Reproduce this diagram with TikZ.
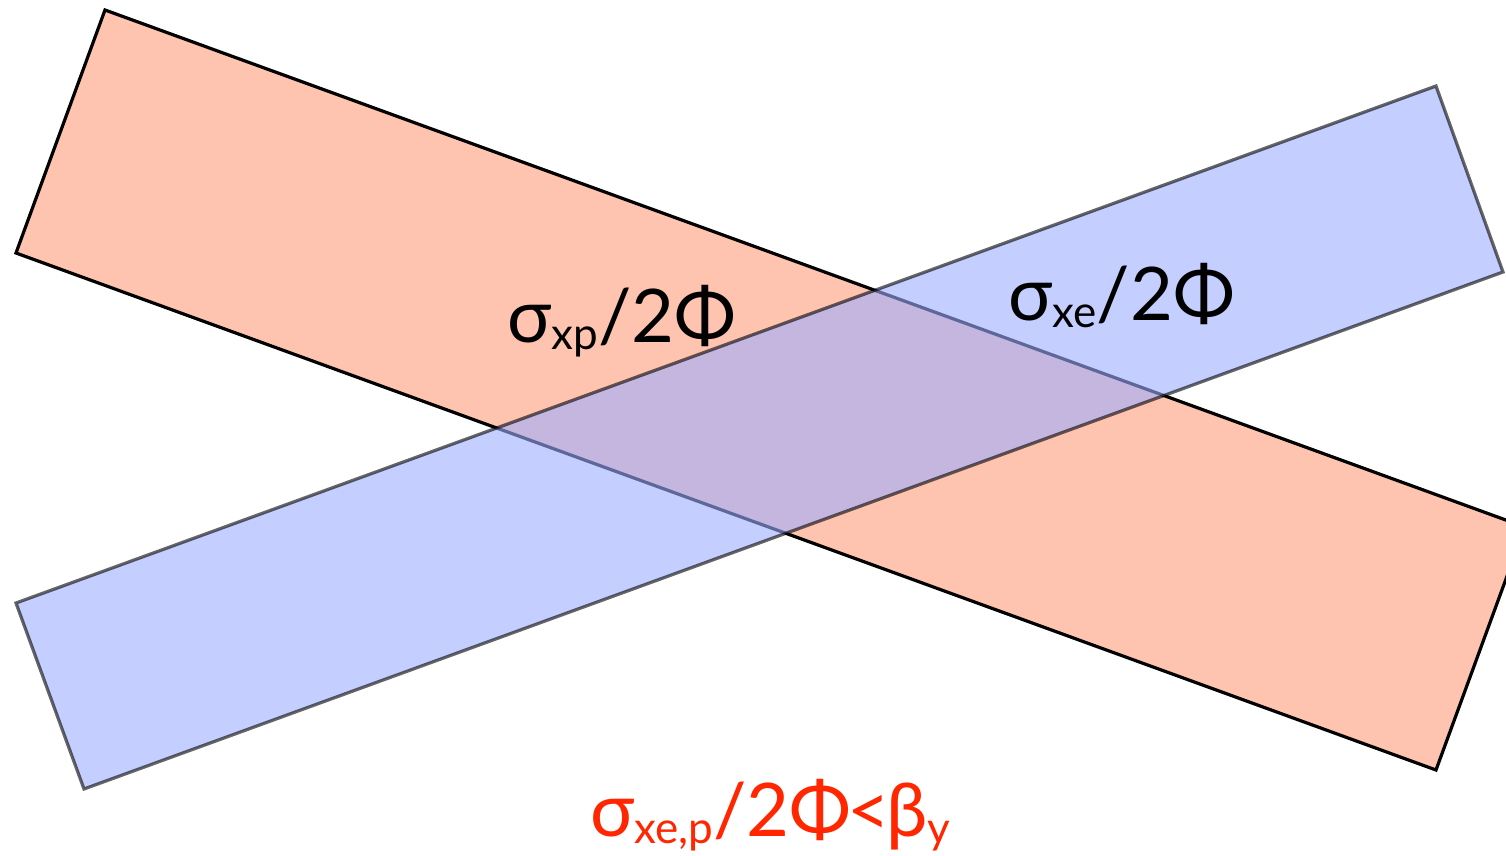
\documentclass[tikz,border=0pt]{standalone}
\usepackage{fontspec}
\setmainfont{Lato}
\usepackage{tikz}
\usetikzlibrary{positioning}

\definecolor{barred}{RGB}{255,196,176}
\definecolor{barblue}{RGB}{157,173,255}
\definecolor{txtred}{RGB}{255,38,0}

\newcommand{\lowsub}[1]{\raisebox{-0.1em}{\fontsize{22}{24}\selectfont #1}}

\begin{document}
\begin{tikzpicture}[
    x=0.5pt, y=-0.5pt,
    redbar/.style={draw=black, fill=barred, line width=1.6pt, line join=miter},
    bluebar/.style={draw=black, fill=barblue, line width=1.6pt, line join=miter, opacity=0.6},
    lbl/.style={anchor=base west, inner sep=0pt, font=\fontsize{37}{40}\selectfont}
]
\useasboundingbox (0,0) rectangle (1506,856);
\clip (0,0) rectangle (1506,856);

% proton bar
\draw[redbar] (105,10) -- (1525,527) -- (1436,770) -- (16,253) -- cycle;
% electron bar
\draw[bluebar] (16,603) -- (1436,86) -- (1503,272) -- (84,789) -- cycle;

\node[lbl] (sxp) at (507,342) {σ\lowsub{xp}/2Φ};
\node[lbl] (sxe) at (1008,320) {σ\lowsub{xe}/2Φ};
\node[lbl, text=txtred] (cond) at (590,836) {σ\lowsub{xe,p}/2Φ\kern-2pt<\kern-2ptβ\lowsub{y}};
\end{tikzpicture}
\end{document}
